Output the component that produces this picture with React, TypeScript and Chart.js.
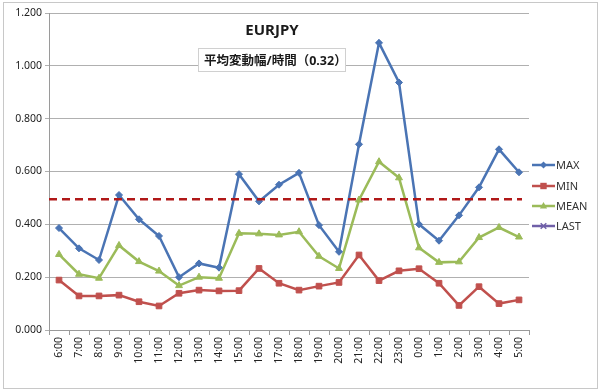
import React, { useEffect, useRef } from "react";
import { Chart, registerables } from "chart.js";

Chart.register(...registerables);

const categories = ["6:00","7:00","8:00","9:00","10:00","11:00","12:00","13:00","14:00","15:00","16:00","17:00","18:00","19:00","20:00","21:00","22:00","23:00","0:00","1:00","2:00","3:00","4:00","5:00"];
const maxValues = [0.386,0.309,0.265,0.511,0.419,0.356,0.200,0.252,0.236,0.590,0.487,0.550,0.595,0.397,0.296,0.703,1.087,0.937,0.400,0.338,0.434,0.540,0.684,0.597];
const minValues = [0.189,0.129,0.129,0.132,0.107,0.091,0.139,0.151,0.148,0.149,0.233,0.177,0.151,0.166,0.180,0.284,0.187,0.224,0.232,0.177,0.093,0.164,0.100,0.114];
const meanValues = [0.286,0.211,0.196,0.320,0.259,0.223,0.168,0.200,0.196,0.366,0.364,0.360,0.372,0.279,0.233,0.492,0.637,0.576,0.311,0.256,0.258,0.350,0.388,0.352];
const lastValues: (number | null)[] = categories.map(() => null);
const yTicks = { min: 0, max: 1.2, step: 0.2 };
const thresholdValue = 0.495;
const titleText = "EURJPY";
const subtitleText = "平均変動幅/時間（0.32）";

const FONT = "'Noto Sans', 'Noto Sans CJK JP', sans-serif";

function marker(ctx: CanvasRenderingContext2D, style: string, r: number, x: number, y: number, color: string) {
  ctx.save();
  ctx.fillStyle = color;
  ctx.strokeStyle = color;
  ctx.lineWidth = 1.5;
  ctx.beginPath();
  if (style === "rectRot") {
    ctx.moveTo(x, y - r); ctx.lineTo(x + r, y); ctx.lineTo(x, y + r); ctx.lineTo(x - r, y); ctx.closePath(); ctx.fill();
  } else if (style === "rect") {
    ctx.rect(x - r * 0.8, y - r * 0.8, r * 1.6, r * 1.6); ctx.fill();
  } else if (style === "triangle") {
    ctx.moveTo(x, y - r); ctx.lineTo(x + r * 0.9, y + r * 0.6); ctx.lineTo(x - r * 0.9, y + r * 0.6); ctx.closePath(); ctx.fill();
  } else {
    ctx.moveTo(x - r * 0.7, y - r * 0.7); ctx.lineTo(x + r * 0.7, y + r * 0.7);
    ctx.moveTo(x + r * 0.7, y - r * 0.7); ctx.lineTo(x - r * 0.7, y + r * 0.7);
    ctx.stroke();
  }
  ctx.restore();
}

const decorPlugin = {
  id: "decor",
  beforeDraw(chart: any) {
    const { ctx, width, height } = chart;
    ctx.save();
    ctx.fillStyle = "#ffffff";
    ctx.fillRect(0, 0, width, height);
    ctx.strokeStyle = "#c8c8c8";
    ctx.lineWidth = 1;
    ctx.strokeRect(3.5, 2.5, 594, 386);
    ctx.restore();
  },
  afterDatasetsDraw(chart: any) {
    const { ctx, chartArea, scales } = chart;
    const y = scales.y.getPixelForValue(thresholdValue);
    ctx.save();
    ctx.strokeStyle = "#b01818";
    ctx.lineWidth = 2.5;
    ctx.setLineDash([8, 5]);
    ctx.beginPath();
    ctx.moveTo(chartArea.left, y);
    ctx.lineTo(chartArea.right - 7, y);
    ctx.stroke();
    ctx.setLineDash([]);

    ctx.fillStyle = "#1a1a1a";
    ctx.font = `bold 15px ${FONT}`;
    ctx.textAlign = "center";
    ctx.textBaseline = "middle";
    ctx.fillText(titleText, 272, 31);

    ctx.fillStyle = "#ffffff";
    ctx.fillRect(198, 48, 148, 24);
    ctx.strokeStyle = "#d0d0d0";
    ctx.lineWidth = 1;
    ctx.strokeRect(198.5, 48.5, 147, 23);
    ctx.fillStyle = "#1a1a1a";
    ctx.font = `bold 12.5px ${FONT}`;
    ctx.textAlign = "left";
    ctx.fillText(subtitleText, 204, 61);

    const ys = [165, 186, 206, 226];
    chart.data.datasets.forEach((ds: any, i: number) => {
      const ly = ys[i];
      ctx.strokeStyle = ds.borderColor;
      ctx.lineWidth = 2.5;
      ctx.beginPath();
      ctx.moveTo(532, ly);
      ctx.lineTo(555, ly);
      ctx.stroke();
      marker(ctx, ds.pointStyle, ds.pointRadius, 543.5, ly, ds.borderColor);
      ctx.fillStyle = "#333333";
      ctx.font = `11px ${FONT}`;
      ctx.textAlign = "left";
      ctx.textBaseline = "middle";
      ctx.fillText(ds.label, 556, ly + 1);
    });
    ctx.restore();
  },
};

export default function App() {
  const ref = useRef<HTMLCanvasElement>(null);
  useEffect(() => {
    if (!ref.current) return;
    const mk = (label: string, data: (number | null)[], color: string, style: string, r: number) => ({
      label,
      data,
      borderColor: color,
      backgroundColor: color,
      pointBackgroundColor: color,
      pointBorderColor: color,
      pointStyle: style,
      pointRadius: r,
      pointBorderWidth: 1,
      borderWidth: 2.5,
      tension: 0,
    });
    const chart = new Chart(ref.current, {
      type: "line",
      data: {
        labels: categories,
        datasets: [
          mk("MAX", maxValues, "#4a74b4", "rectRot", 3.5),
          mk("MIN", minValues, "#c0504d", "rect", 4),
          mk("MEAN", meanValues, "#9bbb59", "triangle", 4),
          mk("LAST", lastValues, "#7060a8", "crossRot", 4),
        ],
      },
      options: {
        responsive: false,
        animation: false,
        events: [],
        layout: { padding: { top: 13, right: 71, left: 0, bottom: 0 } },
        plugins: { legend: { display: false }, title: { display: false }, tooltip: { enabled: false } },
        scales: {
          x: {
            offset: true,
            afterFit: (s: any) => { s.height = 61; },
            grid: { offset: true, drawOnChartArea: false, drawTicks: true, tickLength: 5, color: "#9a9a9a" },
            border: { color: "#9a9a9a", width: 1 },
            ticks: { minRotation: 90, maxRotation: 90, autoSkip: false, padding: 2, color: "#222", font: { family: FONT, size: 10.5 } },
          },
          y: {
            min: yTicks.min,
            max: yTicks.max,
            afterFit: (s: any) => { s.width = 49; },
            grid: { color: "#b0b0b0", lineWidth: 1, tickLength: 4 },
            border: { color: "#9a9a9a", width: 1 },
            ticks: { stepSize: yTicks.step, padding: 3, color: "#222", font: { family: FONT, size: 10.5 }, callback: (v: any) => Number(v).toFixed(3) },
          },
        },
      },
      plugins: [decorPlugin],
    });
    return () => chart.destroy();
  }, []);
  return (
    <div style={{ position: "fixed", left: 0, top: 0, width: 600, height: 391, background: "#fff" }}>
      <canvas ref={ref} width={600} height={391} style={{ width: 600, height: 391, display: "block" }} />
    </div>
  );
}
